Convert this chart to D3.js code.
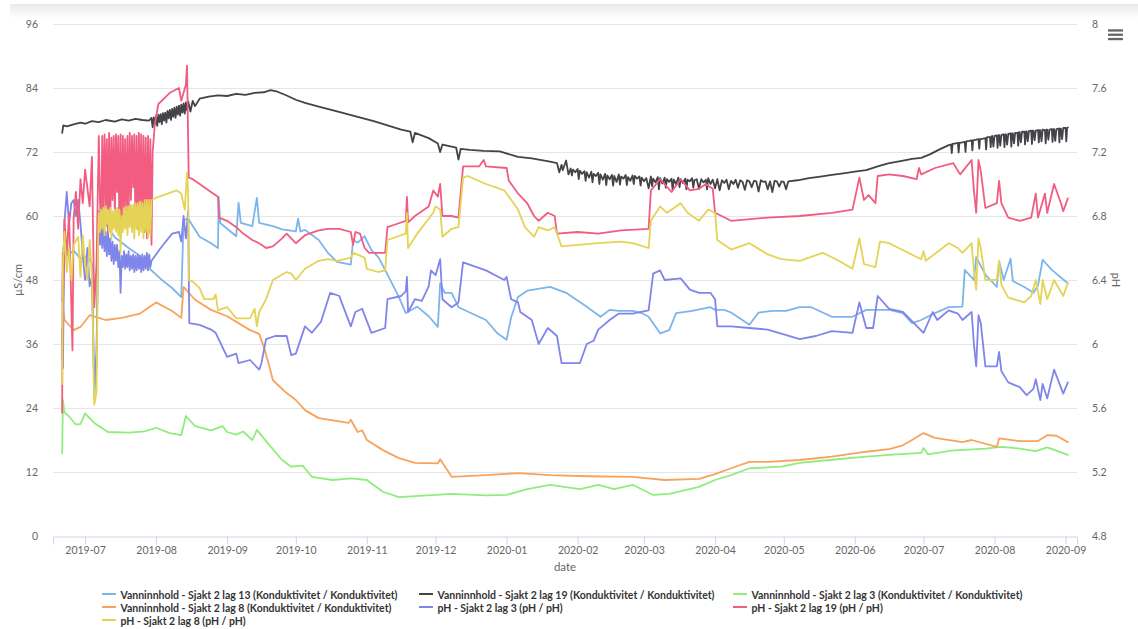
<!DOCTYPE html>
<html>
<head>
<meta charset="utf-8">
<script src="https://cdn.jsdelivr.net/npm/d3@7"></script>
<style>
  body { margin: 0; background: #fff; }
  #chart { position: relative; width: 1138px; height: 629px; }
  #topband { position: absolute; left: 10px; top: 4px; width: 1128px; height: 14px;
    background: linear-gradient(#e9e9e9, #ffffff); }
  svg { position: absolute; left: 0; top: 0; }
  text { font-family: Lato, "Open Sans", sans-serif; }
</style>
</head>
<body>
<div id="chart"><div id="topband"></div></div>
<script>
const xDomain = ["2019-06-17", "2020-09-06"];
const monthTicks = ["2019-07","2019-08","2019-09","2019-10","2019-11","2019-12","2020-01",
  "2020-02","2020-03","2020-04","2020-05","2020-06","2020-07","2020-08","2020-09"];
const leftTicks = [0, 12, 24, 36, 48, 60, 72, 84, 96];
const rightTicks = [4.8, 5.2, 5.6, 6, 6.4, 6.8, 7.2, 7.6, 8];

const seriesNames = [
  "Vanninnhold - Sjakt 2 lag 13 (Konduktivitet / Konduktivitet)",
  "Vanninnhold - Sjakt 2 lag 19 (Konduktivitet / Konduktivitet)",
  "Vanninnhold - Sjakt 2 lag 3 (Konduktivitet / Konduktivitet)",
  "Vanninnhold - Sjakt 2 lag 8 (Konduktivitet / Konduktivitet)",
  "pH - Sjakt 2 lag 3 (pH / pH)",
  "pH - Sjakt 2 lag 19 (pH / pH)",
  "pH - Sjakt 2 lag 8 (pH / pH)"
];
const seriesAxis = ["left", "left", "left", "left", "right", "right", "right"];
const colors = ["#7cb5ec", "#434348", "#90ed7d", "#f7a35c", "#8085e9", "#f15c80", "#e4d354"];

// µS/cm
const lag13 = [["2019-06-21 00",44],["2019-06-21 12",54.2],["2019-06-23",52.5],["2019-06-26",53.5],["2019-06-29",52],["2019-07-02",52.5],["2019-07-04",51],["2019-07-05",26],["2019-07-06",32],["2019-07-06 18",61],["2019-07-10",58.5],["2019-07-14",56],["2019-07-20",54],["2019-07-25",52.5],["2019-07-29",50.2],["2019-08-03",48.2],["2019-08-08",46.5],["2019-08-12",44.8],["2019-08-13",59.2],["2019-08-15",59.5],["2019-08-20",56.1],["2019-08-25",54.9],["2019-08-28",54.0],["2019-08-28 08",63.6],["2019-08-29",58.7],["2019-09-05",56.2],["2019-09-06",62.5],["2019-09-07",58.7],["2019-09-12",58.1],["2019-09-14",63.4],["2019-09-15",58.7],["2019-09-21",58.1],["2019-09-25",57.5],["2019-10-01",57.1],["2019-10-02",59.5],["2019-10-03",57.1],["2019-10-05",57.4],["2019-10-11",55.5],["2019-10-15",53.1],["2019-10-19",51.4],["2019-10-25",50.9],["2019-10-26",55.5],["2019-10-28",55.0],["2019-10-31",56.2],["2019-11-03",53.6],["2019-11-06",52.3],["2019-11-09",49.9],["2019-11-15",44.8],["2019-11-18",41.8],["2019-11-23",43.0],["2019-11-28",41.2],["2019-12-02",39.2],["2019-12-03",47.4],["2019-12-05",45.6],["2019-12-08",45.6],["2019-12-11",42.9],["2019-12-23",40.5],["2019-12-28",38.0],["2020-01-01",36.8],["2020-01-03",41],["2020-01-06",44.8],["2020-01-10",46.0],["2020-01-20",46.7],["2020-01-27",45.6],["2020-02-05",43.0],["2020-02-11",41.1],["2020-02-15",42.4],["2020-02-19",42.2],["2020-02-25",42.2],["2020-02-29",41.8],["2020-03-03",41.1],["2020-03-08",38.0],["2020-03-12",38.6],["2020-03-15",41.8],["2020-03-22",42.2],["2020-03-30",42.9],["2020-04-01",42.4],["2020-04-05",42.4],["2020-04-08",41.9],["2020-04-16",39.6],["2020-04-20",41.9],["2020-04-26",42.2],["2020-05-02",42.2],["2020-05-08",42.9],["2020-05-13",42.9],["2020-05-22",41.1],["2020-05-31",41.1],["2020-06-06",42.4],["2020-06-16",42.4],["2020-06-22",41.8],["2020-06-26",39.9],["2020-06-30",40.5],["2020-07-06",41.8],["2020-07-12",42.9],["2020-07-18",43.0],["2020-07-19",49.9],["2020-07-23",48.0],["2020-07-24",52.3],["2020-07-28",49.0],["2020-08-02",46.7],["2020-08-03",51.5],["2020-08-05",48.0],["2020-08-08",52.0],["2020-08-09",47.8],["2020-08-14",46.7],["2020-08-18",45.6],["2020-08-20",47.0],["2020-08-22",51.8],["2020-08-26",49.9],["2020-09-02",47.4]];

const lag19 = [["2019-06-21",75.6],["2019-06-21 12",77],["2019-06-23",76.8],["2019-06-26",77.2],["2019-06-29",77.5],["2019-07-01",77.3],["2019-07-04",77.8],["2019-07-07",77.6],["2019-07-10",78],["2019-07-14",77.7],["2019-07-17",78.1],["2019-07-20",77.9],["2019-07-23",78.2],["2019-07-26",78],["2019-07-29",77.9],
  ["2019-07-30",78.4],["2019-07-30 12",76.6],["2019-07-31",78.5],["2019-07-31 12",77.2],["2019-08-01",78.8],["2019-08-01 12",76.9],["2019-08-02",79.0],["2019-08-02 12",77.6],["2019-08-03",79.1],["2019-08-03 12",77.2],["2019-08-04",79.3],["2019-08-04 12",77.9],["2019-08-05",79.4],["2019-08-05 12",77.5],["2019-08-06",79.7],["2019-08-06 12",78.3],["2019-08-07",79.9],["2019-08-07 12",78.0],["2019-08-08",80.1],["2019-08-08 12",78.6],["2019-08-09",80.3],["2019-08-09 12",78.4],["2019-08-10",80.5],["2019-08-10 12",79.0],["2019-08-11",80.7],["2019-08-11 12",78.8],["2019-08-12",80.9],["2019-08-12 12",79.4],["2019-08-13",81.1],["2019-08-13 12",79.2],["2019-08-14",81.3],["2019-08-14 12",79.8],["2019-08-15",81.5],["2019-08-16",79.6],["2019-08-17",81.6],["2019-08-18",80.6],
  ["2019-08-20",82.0],["2019-08-24",82.4],["2019-08-28",82.6],["2019-09-01",82.5],["2019-09-05",82.9],["2019-09-09",82.7],["2019-09-13",83.1],["2019-09-17",83.2],["2019-09-20",83.6],["2019-09-23",83.3],["2019-09-27",82.6],["2019-10-01",81.8],["2019-10-05",81.2],["2019-10-11",80.5],["2019-10-19",79.6],["2019-10-28",78.6],["2019-11-04",77.8],["2019-11-10",77.0],["2019-11-16",76.2],["2019-11-20",75.8],["2019-11-21",73.8],["2019-11-22",75.6],["2019-11-28",74.6],["2019-12-02",73.6],["2019-12-03",72.0],["2019-12-04",73.4],["2019-12-10",72.8],["2019-12-11",70.6],["2019-12-12",72.6],["2019-12-16",72.4],["2019-12-22",72.2],["2019-12-29",72.1],["2020-01-06",71.1],["2020-01-12",70.8],["2020-01-20",70.2],
  ["2020-01-23",69.9],["2020-01-24",68.2],["2020-01-25",69.6],["2020-01-25 12",68.6],["2020-01-26",69.2],["2020-01-27",70.4],["2020-01-28",67.8],["2020-01-29",68.9],["2020-01-29 12",67.6],["2020-01-30",68.7],["2020-01-31",68.2],["2020-02-01",68.8],["2020-02-01 12",66.9],["2020-02-02",68.5],["2020-02-03",67.9],["2020-02-04",68.4],["2020-02-04 12",66.6],["2020-02-05",68.2],["2020-02-06",67.2],["2020-02-07",68.3],["2020-02-07 12",66.3],["2020-02-08",67.9],["2020-02-09",67.5],["2020-02-10",68.1],["2020-02-10 12",66.0],["2020-02-11",67.8],["2020-02-12",66.8],["2020-02-13",67.9],["2020-02-13 12",65.8],["2020-02-14",67.6],["2020-02-15",66.9],["2020-02-16",67.7],["2020-02-16 12",65.7],["2020-02-17",67.5],["2020-02-18",66.4],["2020-02-19",67.8],["2020-02-19 12",65.9],["2020-02-20",67.4],["2020-02-21",67.0],["2020-02-22",67.7],["2020-02-22 12",65.8],["2020-02-23",67.3],["2020-02-24",66.6],["2020-02-25",67.6],["2020-02-25 12",66.0],["2020-02-26",67.5],["2020-02-27",67.0],["2020-02-28",67.4],["2020-02-28 12",65.7],["2020-02-29",67.2],["2020-03-01",66.5],["2020-03-02",67.1],["2020-03-03",65.2],["2020-03-04",67.4],["2020-03-04 12",65.6],["2020-03-05",67.0],["2020-03-06",66.3],["2020-03-07",67.3],["2020-03-07 12",65.0],["2020-03-08",67.1],["2020-03-09",66.1],["2020-03-10",67.2],["2020-03-10 12",65.3],["2020-03-11",66.9],["2020-03-12",66.4],["2020-03-13",67.0],["2020-03-13 12",64.9],["2020-03-14",66.8],["2020-03-15",66.0],["2020-03-16",67.2],["2020-03-16 12",65.4],["2020-03-17",66.9],["2020-03-18",66.2],["2020-03-19",67.0],["2020-03-19 12",65.0],["2020-03-20",66.8],["2020-03-21",66.5],["2020-03-22",67.1],["2020-03-22 12",65.3],["2020-03-23",66.7],["2020-03-24",66.9],["2020-03-25",65.1],["2020-03-26",66.9],["2020-03-27",66.3],["2020-03-28",66.8],["2020-03-28 12",65.0],["2020-03-29",67.1],["2020-03-30",66.0],["2020-03-31",66.8],["2020-04-01",65.2],["2020-04-02",66.9],["2020-04-03",64.8],["2020-04-04",66.7],["2020-04-05",66.2],["2020-04-06",66.8],["2020-04-07",65.0],["2020-04-08",66.6],["2020-04-09",66.0],["2020-04-10",66.8],["2020-04-11",65.3],["2020-04-12",66.7],["2020-04-13",66.4],["2020-04-14",64.9],["2020-04-15",66.7],["2020-04-16",66.5],["2020-04-17",65.4],["2020-04-18",66.6],["2020-04-19",66.5],["2020-04-20",64.6],["2020-04-21",66.7],["2020-04-22",66.4],["2020-04-23",66.5],["2020-04-24",65.0],["2020-04-25",66.5],["2020-04-26",64.5],["2020-04-27",66.6],["2020-04-28",66.5],["2020-04-29",65.5],["2020-04-30",66.5],["2020-05-01",66.4],["2020-05-02",65.0],["2020-05-03",66.5],
  ["2020-05-07",66.7],["2020-05-12",67.1],["2020-05-17",67.4],["2020-05-22",67.7],["2020-05-27",68.0],["2020-06-01",68.3],["2020-06-06",68.6],["2020-06-11",69.3],["2020-06-16",69.9],["2020-06-21",70.3],["2020-06-26",70.7],["2020-06-30",70.9],["2020-07-04",71.6],["2020-07-08",72.5],
  ["2020-07-12",73.3],["2020-07-13",73.4],["2020-07-13 08",71.8],["2020-07-13 16",73.5],["2020-07-15",73.6],["2020-07-16",73.7],["2020-07-16 08",71.9],["2020-07-16 16",73.7],["2020-07-18",73.8],["2020-07-19",73.9],["2020-07-19 08",72.0],["2020-07-19 16",74.0],["2020-07-21",74.1],["2020-07-22",74.2],["2020-07-22 08",72.3],["2020-07-22 16",74.2],["2020-07-24",74.3],["2020-07-25",74.4],["2020-07-25 08",72.6],["2020-07-25 16",74.4],["2020-07-27",74.5],["2020-07-28",74.6],["2020-07-28 08",72.5],["2020-07-28 16",74.7],["2020-07-29",74.8],["2020-07-30",74.8],["2020-07-30 08",72.9],["2020-07-30 16",74.9],["2020-07-31",75.0],["2020-07-31 12",73.0],["2020-08-01",75.0],["2020-08-02",75.1],["2020-08-02 08",72.8],["2020-08-02 16",75.1],["2020-08-03",75.2],["2020-08-03 12",73.2],["2020-08-04",75.2],["2020-08-05",75.3],["2020-08-05 08",72.9],["2020-08-05 16",75.3],["2020-08-06",75.3],["2020-08-06 12",73.4],["2020-08-07",75.4],["2020-08-08",75.5],["2020-08-08 08",73.0],["2020-08-08 16",75.5],["2020-08-09",75.5],["2020-08-09 12",73.6],["2020-08-10",75.6],["2020-08-11",75.6],["2020-08-11 08",73.2],["2020-08-11 16",75.7],["2020-08-12",75.7],["2020-08-12 12",73.8],["2020-08-13",75.8],["2020-08-14",75.8],["2020-08-14 08",73.4],["2020-08-14 16",75.8],["2020-08-15",75.9],["2020-08-15 12",74.0],["2020-08-16",75.9],["2020-08-17",76.0],["2020-08-17 08",73.5],["2020-08-17 16",76.0],["2020-08-18",76.0],["2020-08-18 12",74.2],["2020-08-19",76.0],["2020-08-20",76.1],["2020-08-20 08",73.8],["2020-08-20 16",76.1],["2020-08-21",76.1],["2020-08-21 12",74.0],["2020-08-22",76.2],["2020-08-23",76.1],["2020-08-23 08",73.6],["2020-08-23 16",76.2],["2020-08-24",76.2],["2020-08-24 12",74.3],["2020-08-25",76.2],["2020-08-26",76.3],["2020-08-26 08",73.9],["2020-08-26 16",76.3],["2020-08-27",76.3],["2020-08-27 12",74.1],["2020-08-28",76.3],["2020-08-29",76.4],["2020-08-29 08",73.8],["2020-08-29 16",76.4],["2020-08-30",76.4],["2020-08-30 12",74.4],["2020-08-31",76.5],["2020-09-01",76.5],["2020-09-01 08",74.0],["2020-09-01 16",76.5],["2020-09-02",76.6]];

const lag3 = [["2019-06-21 00",15.5],["2019-06-21 08",25.5],["2019-06-22",23.2],["2019-06-24",22.4],["2019-06-27",20.9],["2019-06-29",21.0],["2019-07-01",23.0],["2019-07-05",21.2],["2019-07-11",19.5],["2019-07-20",19.4],["2019-07-27",19.6],["2019-08-01",20.3],["2019-08-07",19.3],["2019-08-12",18.9],["2019-08-14",22.5],["2019-08-18",20.6],["2019-08-25",19.8],["2019-08-30",20.6],["2019-09-01",19.5],["2019-09-05",19.0],["2019-09-08",19.6],["2019-09-12",18.0],["2019-09-14",19.9],["2019-09-18",17.8],["2019-09-25",14.25],["2019-09-29",13.0],["2019-10-04",13.2],["2019-10-08",11.1],["2019-10-17",10.5],["2019-10-25",10.8],["2019-11-01",10.5],["2019-11-08",8.3],["2019-11-15",7.3],["2019-12-08",7.9],["2019-12-23",7.6],["2020-01-01",7.7],["2020-01-10",8.8],["2020-01-20",9.6],["2020-02-02",8.8],["2020-02-10",9.6],["2020-02-17",8.8],["2020-02-25",9.6],["2020-03-05",7.7],["2020-03-12",7.9],["2020-03-25",9.2],["2020-04-01",10.5],["2020-04-08",11.4],["2020-04-16",12.7],["2020-04-30",13.0],["2020-05-08",13.7],["2020-05-22",14.3],["2020-06-06",14.9],["2020-06-16",15.2],["2020-06-30",15.6],["2020-07-01",16.5],["2020-07-03",15.3],["2020-07-13",16.0],["2020-07-28",16.4],["2020-08-04",16.7],["2020-08-12",16.4],["2020-08-19",15.9],["2020-08-24",16.6],["2020-09-02",15.2]];

const lag8 = [["2019-06-21 00",33],["2019-06-21 08",43],["2019-06-22",40.5],["2019-06-26",38.6],["2019-06-29",39.2],["2019-07-03",41.4],["2019-07-07",40.9],["2019-07-10",40.5],["2019-07-17",40.9],["2019-07-25",41.7],["2019-08-01",43.8],["2019-08-08",42.2],["2019-08-12",40.9],["2019-08-13",46.7],["2019-08-18",44.3],["2019-08-25",42.4],["2019-09-01",41.2],["2019-09-11",38.6],["2019-09-15",37.9],["2019-09-17",35.5],["2019-09-19",32.5],["2019-09-21",29.2],["2019-09-27",26.8],["2019-10-01",25.5],["2019-10-05",23.6],["2019-10-11",22.1],["2019-10-24",21.2],["2019-10-25",21.8],["2019-10-28",19.5],["2019-10-30",19.8],["2019-11-01",18.0],["2019-11-08",16.1],["2019-11-15",14.6],["2019-11-22",13.7],["2019-12-02",13.6],["2019-12-03",14.4],["2019-12-08",11.1],["2019-12-23",11.4],["2020-01-06",11.8],["2020-01-20",11.4],["2020-02-05",11.2],["2020-02-25",11.1],["2020-03-10",10.5],["2020-03-25",10.7],["2020-04-01",11.6],["2020-04-08",12.7],["2020-04-16",13.9],["2020-04-24",13.9],["2020-05-08",14.25],["2020-05-22",14.9],["2020-06-06",15.8],["2020-06-16",16.3],["2020-06-22",17.0],["2020-06-26",18.0],["2020-07-01",19.3],["2020-07-06",18.4],["2020-07-18",17.6],["2020-07-22",18.0],["2020-08-02",16.7],["2020-08-03",18.3],["2020-08-12",17.8],["2020-08-20",17.8],["2020-08-24",18.9],["2020-08-28",18.8],["2020-09-02",17.6]];

// pH
const phLag3 = [["2019-06-21 00",6.09],["2019-06-21 08",5.85],["2019-06-22",6.76],["2019-06-23",6.95],["2019-06-24",6.75],["2019-06-25",6.88],["2019-06-26",6.9],["2019-06-27",6.8],["2019-06-28",6.9],["2019-06-29",6.75],["2019-06-30",6.55],["2019-07-01",6.4],["2019-07-02",6.6],["2019-07-03",6.36],["2019-07-04",6.42],["2019-07-05",5.75],["2019-07-06",5.95],["2019-07-06 18",6.7],
  ["2019-07-07",6.78],["2019-07-07 12",6.62],["2019-07-08",6.74],["2019-07-08 12",6.6],["2019-07-09",6.75],["2019-07-09 12",6.58],["2019-07-10",6.7],["2019-07-10 12",6.55],["2019-07-11",6.7],["2019-07-11 12",6.56],["2019-07-12",6.66],["2019-07-12 12",6.52],["2019-07-13",6.64],["2019-07-13 12",6.5],["2019-07-14",6.62],["2019-07-14 12",6.52],["2019-07-15",6.62],["2019-07-15 12",6.48],["2019-07-16",6.58],["2019-07-16 12",6.32],["2019-07-17",6.55],["2019-07-17 12",6.48],["2019-07-18",6.58],["2019-07-18 12",6.47],["2019-07-19",6.56],["2019-07-19 12",6.48],["2019-07-20",6.58],["2019-07-20 12",6.46],["2019-07-21",6.55],["2019-07-21 12",6.47],["2019-07-22",6.56],["2019-07-22 12",6.45],["2019-07-23",6.55],["2019-07-23 12",6.46],["2019-07-24",6.56],["2019-07-24 12",6.47],["2019-07-25",6.55],["2019-07-25 12",6.45],["2019-07-26",6.56],["2019-07-26 12",6.46],["2019-07-27",6.55],["2019-07-27 12",6.47],["2019-07-28",6.57],["2019-07-28 12",6.46],["2019-07-29",6.56],["2019-07-29 12",6.48],["2019-07-30",6.52],
  ["2019-08-03",6.6],["2019-08-08",6.69],["2019-08-11",6.7],["2019-08-12",6.64],["2019-08-13",6.8],["2019-08-14",6.66],["2019-08-15",6.83],["2019-08-15 12",6.13],["2019-08-20",6.12],["2019-08-25",6.09],["2019-08-27",6.07],["2019-09-01",5.92],["2019-09-05",5.94],["2019-09-06",5.88],["2019-09-11",5.9],["2019-09-15",5.84],["2019-09-16",5.88],["2019-09-18",6.03],["2019-09-22",6.05],["2019-09-27",6.05],["2019-09-29",5.93],["2019-10-01",5.94],["2019-10-05",6.11],["2019-10-08",6.07],["2019-10-12",6.14],["2019-10-16",6.32],["2019-10-20",6.3],["2019-10-21",6.26],["2019-10-25",6.11],["2019-10-27",6.2],["2019-10-30",6.22],["2019-10-31",6.18],["2019-11-03",6.07],["2019-11-09",6.1],["2019-11-10",6.28],["2019-11-16",6.3],["2019-11-18",6.33],["2019-11-18 12",6.42],["2019-11-19",6.2],["2019-11-22",6.28],["2019-11-25",6.27],["2019-11-28",6.36],["2019-11-29",6.46],["2019-12-01",6.43],["2019-12-03",6.53],["2019-12-04",6.28],["2019-12-08",6.23],["2019-12-11",6.26],["2019-12-13",6.51],["2019-12-23",6.46],["2019-12-31",6.4],["2020-01-01",6.42],["2020-01-03",6.28],["2020-01-06",6.26],["2020-01-07",6.2],["2020-01-12",6.15],["2020-01-15",6.0],["2020-01-19",6.1],["2020-01-23",6.05],["2020-01-25",5.88],["2020-02-02",5.88],["2020-02-05",6.0],["2020-02-08",6.02],["2020-02-10",6.09],["2020-02-15",6.15],["2020-02-19",6.19],["2020-02-25",6.19],["2020-03-03",6.21],["2020-03-05",6.44],["2020-03-08",6.46],["2020-03-10",6.4],["2020-03-17",6.41],["2020-03-21",6.34],["2020-03-25",6.32],["2020-03-30",6.32],["2020-04-01",6.28],["2020-04-02",6.11],["2020-04-08",6.11],["2020-04-16",6.1],["2020-04-24",6.09],["2020-05-08",6.03],["2020-05-15",6.05],["2020-05-22",6.08],["2020-05-31",6.07],["2020-06-03",6.26],["2020-06-06",6.1],["2020-06-09",6.1],["2020-06-11",6.3],["2020-06-16",6.22],["2020-06-22",6.2],["2020-07-01",6.07],["2020-07-05",6.2],["2020-07-07",6.15],["2020-07-12",6.21],["2020-07-16",6.19],["2020-07-18",6.15],["2020-07-22",6.2],["2020-07-23",6.0],["2020-07-24",5.86],["2020-07-25",6.18],["2020-07-26",6.13],["2020-07-28",5.86],["2020-08-02",5.86],["2020-08-03",5.95],["2020-08-04",5.83],["2020-08-07",5.76],["2020-08-12",5.73],["2020-08-15",5.68],["2020-08-18",5.72],["2020-08-19",5.78],["2020-08-21",5.65],["2020-08-22",5.75],["2020-08-24",5.66],["2020-08-27",5.84],["2020-08-31",5.69],["2020-09-02",5.76]];

const phLag19 = [["2019-06-21 00",5.57],["2019-06-21 06",6.57],["2019-06-21 12",6.3],["2019-06-22",6.78],["2019-06-23",6.55],["2019-06-24",6.82],["2019-06-25 12",5.96],["2019-06-26",6.78],["2019-06-27",6.95],["2019-06-28",6.72],["2019-06-29",7.03],["2019-06-30",6.88],["2019-07-01",7.09],["2019-07-03",6.86],["2019-07-04",7.17],["2019-07-05",6.23],["2019-07-06",6.5],["2019-07-07",7.3],
  ["2019-07-07 12",6.9],["2019-07-08",6.72],["2019-07-08 12",7.3],["2019-07-09",6.8],["2019-07-09 12",7.31],["2019-07-10",6.85],["2019-07-10 12",7.28],["2019-07-11",6.7],["2019-07-11 12",7.32],["2019-07-12",6.75],["2019-07-12 12",7.29],["2019-07-13",6.9],["2019-07-13 12",7.3],["2019-07-14",6.8],["2019-07-14 12",7.31],["2019-07-15",6.95],["2019-07-15 12",7.3],["2019-07-16",6.72],["2019-07-16 12",7.31],["2019-07-17",6.7],["2019-07-17 12",7.3],["2019-07-18",6.85],["2019-07-18 12",7.28],["2019-07-19",6.76],["2019-07-19 12",7.3],["2019-07-20",6.8],["2019-07-20 12",7.32],["2019-07-21",6.9],["2019-07-21 12",7.3],["2019-07-22",6.98],["2019-07-22 12",7.31],["2019-07-23",6.74],["2019-07-23 12",7.3],["2019-07-24",6.72],["2019-07-24 12",7.32],["2019-07-25",6.85],["2019-07-25 12",7.31],["2019-07-26",6.78],["2019-07-26 12",7.3],["2019-07-27",6.7],["2019-07-27 12",7.29],["2019-07-28",6.66],["2019-07-28 12",7.3],["2019-07-29",6.7],["2019-07-29 12",7.28],["2019-07-30",6.62],["2019-07-30 12",7.2],["2019-07-31 12",7.38],["2019-08-02",7.5],["2019-08-07",7.57],["2019-08-11",7.6],["2019-08-12",7.52],["2019-08-14",7.62],["2019-08-14 12",7.74],["2019-08-15 06",7.04],
  ["2019-08-17",7.03],["2019-08-20",7.0],["2019-08-24",6.96],["2019-08-28",6.92],["2019-08-28 12",6.79],["2019-09-01",6.77],["2019-09-05",6.73],["2019-09-08",6.69],["2019-09-12",6.65],["2019-09-15",6.63],["2019-09-18",6.6],["2019-09-21",6.61],["2019-09-25",6.66],["2019-09-27",6.69],["2019-10-01",6.63],["2019-10-05",6.68],["2019-10-11",6.71],["2019-10-15",6.72],["2019-10-20",6.72],["2019-10-25",6.7],["2019-10-26",6.62],["2019-10-27",6.7],["2019-10-29",6.69],["2019-10-31",6.6],["2019-11-02",6.57],["2019-11-09",6.57],["2019-11-10",6.73],["2019-11-14",6.75],["2019-11-18",6.77],["2019-11-18 12",6.92],["2019-11-19",6.76],["2019-11-22",6.8],["2019-11-28",6.86],["2019-11-30",6.96],["2019-12-02",6.92],["2019-12-03",7.0],["2019-12-04",6.8],["2019-12-08",6.8],["2019-12-11",6.79],["2019-12-13",7.11],["2019-12-20",7.11],["2019-12-22",7.15],["2019-12-23",7.11],["2020-01-01",7.1],["2020-01-02",7.02],["2020-01-06",6.94],["2020-01-10",6.88],["2020-01-13",6.8],["2020-01-15",6.77],["2020-01-19",6.82],["2020-01-22",6.8],["2020-01-23",6.69],["2020-02-01",6.7],["2020-02-10",6.69],["2020-02-20",6.71],["2020-03-03",6.72],["2020-03-04",6.96],["2020-03-08",7.03],["2020-03-13",6.95],["2020-03-17",7.03],["2020-03-21",6.96],["2020-03-25",6.97],["2020-03-28",7.0],["2020-03-31",6.97],["2020-04-01",6.82],["2020-04-08",6.77],["2020-04-24",6.79],["2020-05-08",6.8],["2020-05-22",6.82],["2020-05-31",6.84],["2020-06-03",7.04],["2020-06-05",6.9],["2020-06-07",6.93],["2020-06-10",6.88],["2020-06-11",7.05],["2020-06-16",7.06],["2020-06-22",7.05],["2020-06-28",7.03],["2020-06-29",7.1],["2020-06-30",7.06],["2020-07-06",7.1],["2020-07-14",7.13],["2020-07-17",7.06],["2020-07-22",7.15],["2020-07-23",6.96],["2020-07-24",6.82],["2020-07-25",7.15],["2020-07-26",7.08],["2020-07-28",6.85],["2020-08-02",6.88],["2020-08-03",7.02],["2020-08-04",6.88],["2020-08-07",6.79],["2020-08-12",6.77],["2020-08-17",6.79],["2020-08-19",6.94],["2020-08-20",6.79],["2020-08-23",6.94],["2020-08-24",6.82],["2020-08-27",7.0],["2020-08-30",6.88],["2020-08-31",6.83],["2020-09-02",6.91]];

const phLag8 = [["2019-06-21 00",5.75],["2019-06-21 08",6.5],["2019-06-22",6.7],["2019-06-23",6.45],["2019-06-24",6.6],["2019-06-25",6.4],["2019-06-26",6.62],["2019-06-28",6.67],["2019-06-29",6.42],["2019-06-30",6.68],["2019-07-01",6.5],["2019-07-02",6.4],["2019-07-03",6.65],["2019-07-04",6.42],["2019-07-05",5.62],["2019-07-06",5.7],["2019-07-06 18",6.7],
  ["2019-07-07",6.82],["2019-07-07 12",6.7],["2019-07-08",6.84],["2019-07-08 12",6.72],["2019-07-09",6.85],["2019-07-09 12",6.68],["2019-07-10",6.86],["2019-07-10 12",6.75],["2019-07-11",6.84],["2019-07-11 12",6.7],["2019-07-12",6.85],["2019-07-12 12",6.66],["2019-07-13",6.83],["2019-07-13 12",6.72],["2019-07-14",6.84],["2019-07-14 12",6.7],["2019-07-15",6.85],["2019-07-15 12",6.68],["2019-07-16",6.84],["2019-07-16 12",6.57],["2019-07-17",6.8],["2019-07-17 12",6.7],["2019-07-18",6.85],["2019-07-18 12",6.72],["2019-07-19",6.86],["2019-07-19 12",6.68],["2019-07-20",6.86],["2019-07-20 12",6.73],["2019-07-21",6.87],["2019-07-21 12",6.7],["2019-07-22",6.87],["2019-07-22 12",6.66],["2019-07-23",6.88],["2019-07-23 12",6.72],["2019-07-24",6.88],["2019-07-24 12",6.68],["2019-07-25",6.89],["2019-07-25 12",6.7],["2019-07-26",6.88],["2019-07-26 12",6.66],["2019-07-27",6.9],["2019-07-27 12",6.7],["2019-07-28",6.9],["2019-07-28 12",6.67],["2019-07-29",6.9],["2019-07-29 12",6.68],["2019-07-30",6.9],
  ["2019-08-02",6.92],["2019-08-06",6.94],["2019-08-10",6.96],["2019-08-12",6.94],["2019-08-13 12",6.84],["2019-08-14",6.95],["2019-08-14 12",7.07],["2019-08-15",6.95],["2019-08-15 06",6.4],
  ["2019-08-17",6.39],["2019-08-20",6.35],["2019-08-22",6.28],["2019-08-26",6.28],["2019-08-27",6.31],["2019-08-28",6.21],["2019-09-01",6.23],["2019-09-05",6.16],["2019-09-11",6.16],["2019-09-13",6.22],["2019-09-14",6.11],["2019-09-15",6.2],["2019-09-18",6.28],["2019-09-21",6.4],["2019-09-27",6.45],["2019-09-29",6.44],["2019-10-01",6.4],["2019-10-05",6.47],["2019-10-11",6.52],["2019-10-15",6.53],["2019-10-19",6.52],["2019-10-25",6.54],["2019-10-26",6.57],["2019-10-31",6.54],["2019-11-01",6.47],["2019-11-06",6.45],["2019-11-09",6.46],["2019-11-10",6.65],["2019-11-18",6.69],["2019-11-18 12",6.82],["2019-11-19",6.6],["2019-11-23",6.69],["2019-11-30",6.82],["2019-12-01",6.86],["2019-12-03",6.84],["2019-12-04",6.67],["2019-12-08",6.72],["2019-12-11",6.73],["2019-12-13",7.04],["2019-12-15",7.05],["2019-12-23",7.0],["2019-12-31",6.96],["2020-01-02",6.92],["2020-01-06",6.84],["2020-01-09",6.73],["2020-01-13",6.67],["2020-01-15",6.73],["2020-01-19",6.71],["2020-01-22",6.73],["2020-01-25",6.61],["2020-02-01",6.62],["2020-02-10",6.63],["2020-02-20",6.64],["2020-02-25",6.63],["2020-03-03",6.6],["2020-03-04",6.77],["2020-03-08",6.86],["2020-03-11",6.82],["2020-03-17",6.88],["2020-03-20",6.82],["2020-03-25",6.77],["2020-03-29",6.84],["2020-04-01",6.82],["2020-04-02",6.65],["2020-04-08",6.59],["2020-04-16",6.63],["2020-04-24",6.56],["2020-04-30",6.53],["2020-05-08",6.52],["2020-05-18",6.57],["2020-05-25",6.52],["2020-05-31",6.47],["2020-06-03",6.66],["2020-06-05",6.5],["2020-06-10",6.48],["2020-06-12",6.64],["2020-06-16",6.63],["2020-06-30",6.53],["2020-07-01",6.58],["2020-07-02",6.52],["2020-07-12",6.63],["2020-07-16",6.6],["2020-07-18",6.57],["2020-07-22",6.63],["2020-07-23",6.46],["2020-07-24",6.34],["2020-07-25",6.66],["2020-07-26",6.6],["2020-07-28",6.4],["2020-08-02",6.4],["2020-08-03",6.52],["2020-08-04",6.37],["2020-08-07",6.29],["2020-08-14",6.26],["2020-08-17",6.3],["2020-08-19",6.4],["2020-08-21",6.25],["2020-08-22",6.4],["2020-08-24",6.28],["2020-08-27",6.4],["2020-08-31",6.3],["2020-09-02",6.38]];

const seriesData = [lag13, lag19, lag3, lag8, phLag3, phLag19, phLag8];

const parseHour = d3.utcParse("%Y-%m-%d %H");
const parseDay = d3.utcParse("%Y-%m-%d");
const parseMonth = d3.utcParse("%Y-%m");
const parseDate = s => parseHour(s) || parseDay(s);

const width = 1138, height = 629;
const plot = { left: 53, right: 1077, top: 24, bottom: 536 };

const x = d3.scaleUtc()
  .domain(xDomain.map(parseDay))
  .range([plot.left, plot.right]);
const yLeft = d3.scaleLinear()
  .domain([leftTicks[0], leftTicks[leftTicks.length - 1]])
  .range([plot.bottom, plot.top]);
const yRight = d3.scaleLinear()
  .domain([rightTicks[0], rightTicks[rightTicks.length - 1]])
  .range([plot.bottom, plot.top]);

const svg = d3.select("#chart").append("svg")
  .attr("width", width)
  .attr("height", height);

// grid
svg.append("g")
  .selectAll("line")
  .data(leftTicks.slice(1))
  .join("line")
  .attr("x1", plot.left)
  .attr("x2", plot.right)
  .attr("y1", d => yLeft(d) + 0.5)
  .attr("y2", d => yLeft(d) + 0.5)
  .attr("stroke", "#e6e6e6");

// x axis
const xAxis = svg.append("g")
  .attr("transform", `translate(0,${plot.bottom + 0.5})`)
  .call(d3.axisBottom(x)
    .tickValues(monthTicks.map(parseMonth))
    .tickFormat(d3.utcFormat("%Y-%m"))
    .tickSize(8)
    .tickPadding(2));
xAxis.select(".domain").attr("stroke", "#ccd6eb");
xAxis.selectAll(".tick line").attr("stroke", "#ccd6eb");
xAxis.selectAll(".tick text").attr("fill", "#666").style("font-size", "10.5px");

// left axis
const leftAxis = svg.append("g")
  .attr("transform", `translate(${plot.left},0)`)
  .call(d3.axisLeft(yLeft).tickValues(leftTicks).tickSize(0).tickPadding(15));
leftAxis.select(".domain").remove();
leftAxis.selectAll(".tick text").attr("fill", "#666").style("font-size", "10.5px");

// right axis
const rightAxis = svg.append("g")
  .attr("transform", `translate(${plot.right},0)`)
  .call(d3.axisRight(yRight).tickValues(rightTicks).tickSize(0).tickPadding(15)
    .tickFormat(d => +d.toFixed(1)));
rightAxis.select(".domain").remove();
rightAxis.selectAll(".tick text").attr("fill", "#666").style("font-size", "10.5px");

// axis titles
svg.append("text")
  .attr("transform", `translate(17,${(plot.top + plot.bottom) / 2}) rotate(-90)`)
  .attr("text-anchor", "middle")
  .attr("dominant-baseline", "central")
  .attr("fill", "#666")
  .style("font-size", "11px")
  .text("µS/cm");
svg.append("text")
  .attr("transform", `translate(1116,${(plot.top + plot.bottom) / 2}) rotate(90)`)
  .attr("text-anchor", "middle")
  .attr("dominant-baseline", "central")
  .attr("fill", "#666")
  .style("font-size", "11px")
  .text("pH");
svg.append("text")
  .attr("x", (plot.left + plot.right) / 2)
  .attr("y", 566)
  .attr("text-anchor", "middle")
  .attr("dominant-baseline", "central")
  .attr("fill", "#666")
  .style("font-size", "11.5px")
  .text("date");

// series
const lineFor = axis => d3.line()
  .x(d => x(parseDate(d[0])))
  .y(d => (axis === "left" ? yLeft : yRight)(d[1]));

svg.append("g")
  .selectAll("path")
  .data(seriesData)
  .join("path")
  .attr("d", (d, i) => lineFor(seriesAxis[i])(d))
  .attr("fill", "none")
  .attr("stroke", (d, i) => colors[i])
  .attr("stroke-width", 1.8)
  .attr("stroke-linejoin", "round")
  .attr("stroke-linecap", "round");

// legend
const legendCols = [102, 419, 733];
const legendRows = [594, 607, 620];
const legend = svg.append("g");
const items = legend.selectAll("g")
  .data(seriesNames)
  .join("g")
  .attr("transform", (d, i) => `translate(${legendCols[i % 3]},${legendRows[Math.floor(i / 3)]})`);
items.append("line")
  .attr("x1", 0).attr("x2", 14)
  .attr("stroke", (d, i) => colors[i])
  .attr("stroke-width", 2);
const labels = items.append("text")
  .attr("x", 18.5)
  .attr("dominant-baseline", "central")
  .attr("fill", "#333")
  .style("font-size", "11px")
  .style("font-weight", "700")
  .text(d => d);
const squeeze = 277 / labels.node().getComputedTextLength();
labels.each(function () {
  const w = this.getComputedTextLength();
  d3.select(this).attr("textLength", w * squeeze).attr("lengthAdjust", "spacingAndGlyphs");
});

// menu icon
svg.append("g")
  .selectAll("rect")
  .data([0, 1, 2])
  .join("rect")
  .attr("x", 1108)
  .attr("y", d => 29.3 + d * 4.3)
  .attr("width", 15)
  .attr("height", 2.3)
  .attr("fill", "#666");
</script>
</body>
</html>
